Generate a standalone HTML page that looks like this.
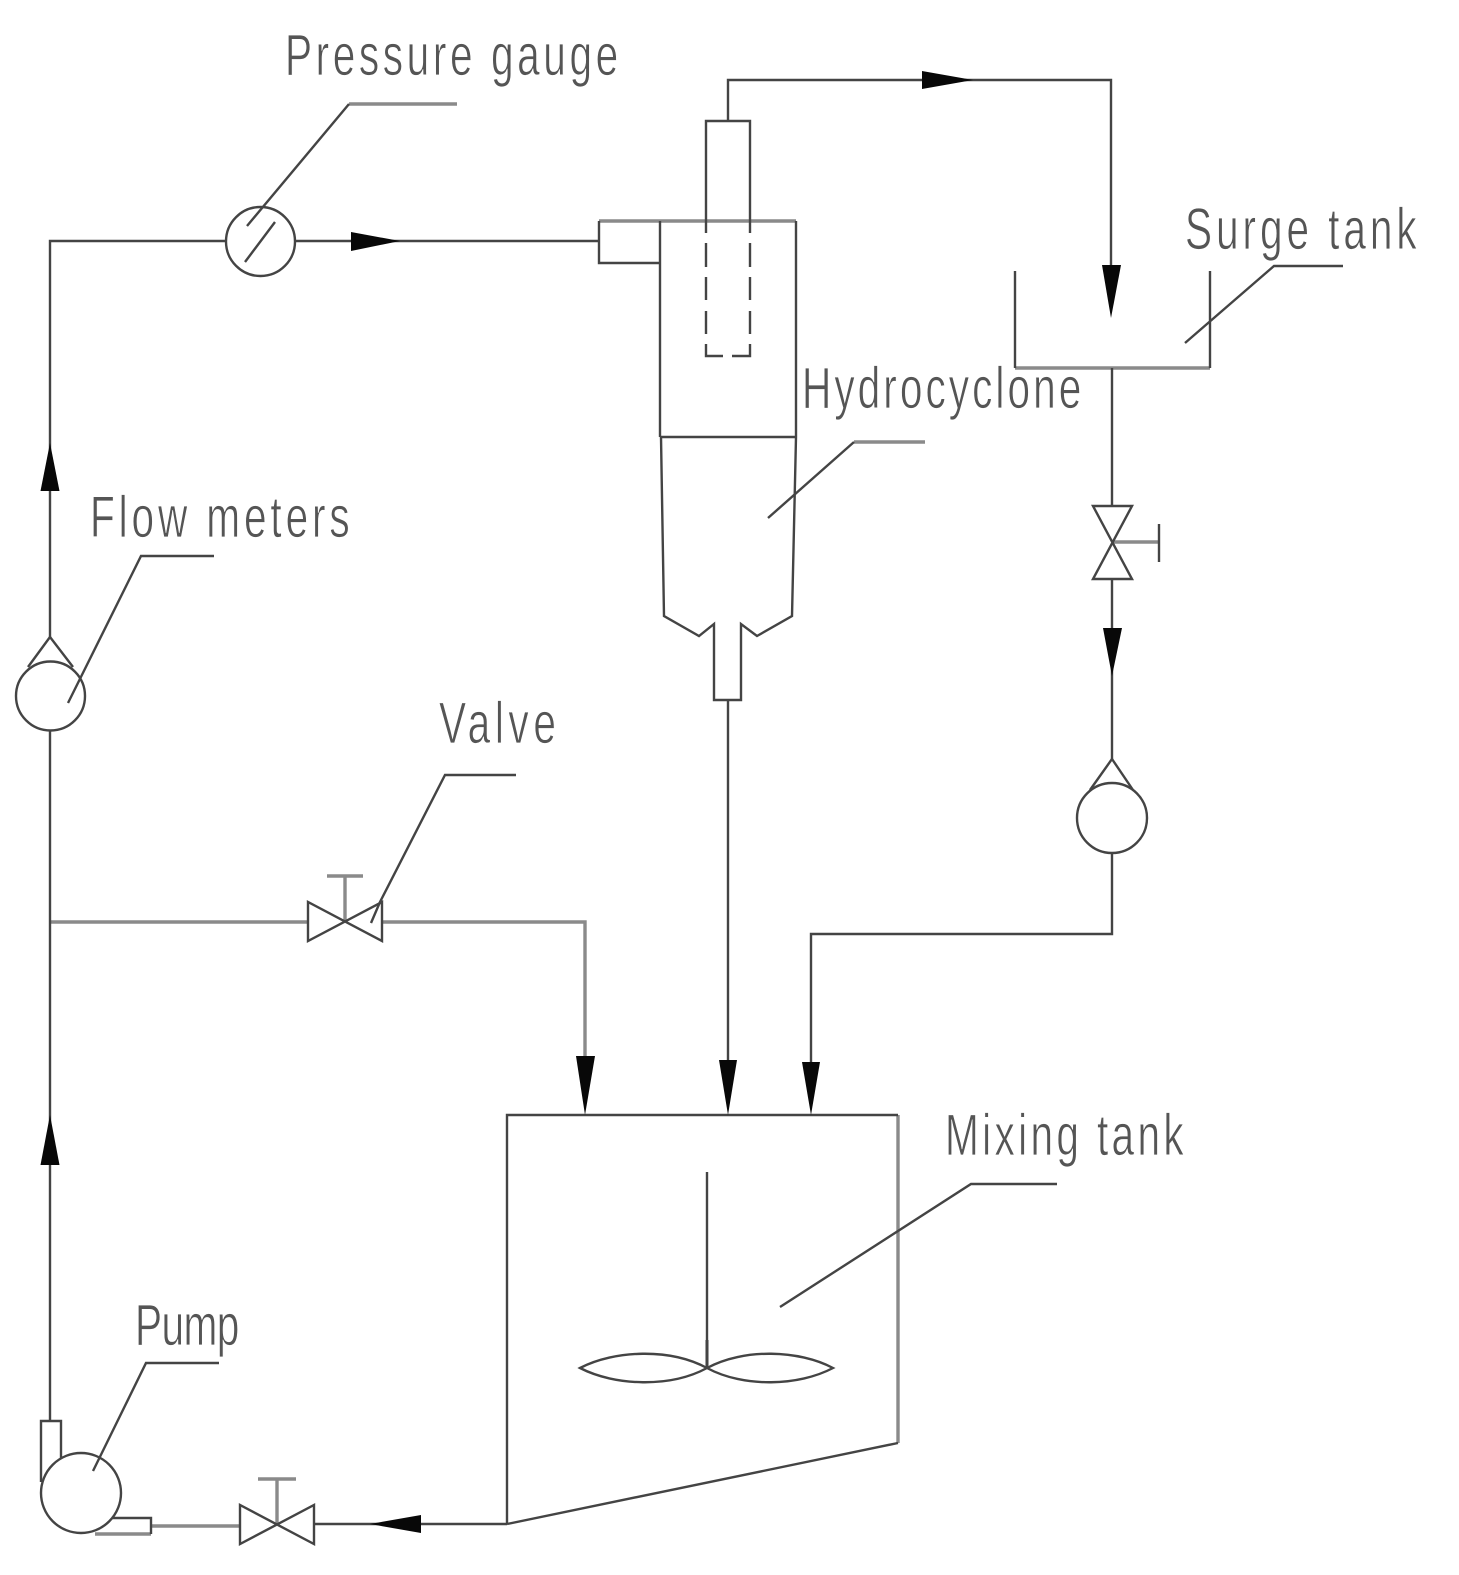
<!DOCTYPE html>
<html><head><meta charset="utf-8"><style>html,body{margin:0;padding:0;background:#fff}svg{display:block}</style></head>
<body>
<svg width="1459" height="1575" viewBox="0 0 1459 1575" xmlns="http://www.w3.org/2000/svg">
<rect width="1459" height="1575" fill="#fff"/>
<!-- lighter, thicker lines -->
<g fill="none" stroke="#8a8a8a" stroke-width="3.4">
<path d="M599 221H796"/>
<path d="M1015 368H1210"/>
<path d="M50 922H308M382 922H585V1056"/>
<path d="M898 1115V1443"/>
<path d="M151 1526H240M95 1534H151"/>
<path d="M345 922V876M327 876H363"/>
<path d="M277 1524V1479M258 1479H296"/>
<path d="M1112 542H1159"/>
<path d="M349 104H457M854 442H925"/>
<path d="M707 1368V1340"/>
</g>
<g fill="none" stroke="#444" stroke-width="2.4">
<!-- main left line -->
<path d="M50 1421V731M50 637V241H226M295 241H599"/>
<circle cx="260.500" cy="241.500" r="34.500"/>
<path d="M245 262L275 222M247 226L349 104"/>
<!-- hydrocyclone -->
<path d="M660 221V437M796 221V437M660 437H796M599 221V263H660"/>
<path d="M706 221V121H750V221"/>
<path d="M706 221V233M706 243V267M706 277V300M706 311V334M706 344V356H723M732 356H750V344M750 334V311M750 300V277M750 267V243M750 233V221"/>
<path d="M728 121V80H1111V265"/>
<path d="M661 437L664 616L699 636L714 624V700H741V624L757 636L792 616L796 437"/>
<path d="M728 700V1060"/>
<path d="M768 518L854 442"/>
<!-- surge tank -->
<path d="M1015 271V368M1210 271V368M1185 343L1274 266H1343"/>
<path d="M1112 368V506M1112 579V759"/>
<path d="M1093 506H1132L1093 579H1132Z"/>
<path d="M1159 524V562"/>
<path d="M1112 759L1090 790M1112 759L1133 790"/>
<circle cx="1112" cy="818" r="35"/>
<path d="M1112 853V934H811V1062"/>
<!-- flow meter -->
<circle cx="50.500" cy="696" r="34.500"/>
<path d="M50 637L28 667M50 637L73 667M68 703L141 556H214"/>
<!-- valve -->
<path d="M308 902V941L382 902V941Z"/>
<path d="M371 923L380 902L445 775H516"/>
<!-- mixing tank -->
<path d="M507 1524V1115H898M898 1443L507 1524"/>
<path d="M707 1172V1368"/>
<path d="M707 1368C670 1348 615 1350 580 1368C615 1386 670 1388 707 1368C744 1348 799 1350 833 1368C799 1386 744 1388 707 1368Z"/>
<path d="M780 1307L971 1184H1057"/>
<!-- pump -->
<circle cx="81" cy="1493" r="40"/>
<path d="M41 1482V1421H61V1458"/>
<path d="M112 1518H151V1534"/>
<path d="M93 1471L146 1363H219"/>
<path d="M314 1524H507"/>
<path d="M240 1505V1544L314 1505V1544Z"/>
</g>
<g fill="#080808" stroke="none">
<path d="M351 232L400 241L351 251Z"/>
<path d="M922 71L973 80L922 89Z"/>
<path d="M1102 265H1121L1111 318Z"/>
<path d="M1103 628H1122L1112 676Z"/>
<path d="M40.500 491L50 443L59.500 491Z"/>
<path d="M40.500 1165L50 1115L59.500 1165Z"/>
<path d="M576 1056H595L585 1115Z"/>
<path d="M719 1060H737L728 1115Z"/>
<path d="M802 1062H820L811 1115Z"/>
<path d="M421 1515V1533L370 1524Z"/>
</g>
<g font-family="'Liberation Sans',sans-serif" font-size="58" fill="#555" stroke="#fff" stroke-width="0.8">
<text transform="translate(285 75) scale(.7 1)" textLength="476" lengthAdjust="spacing">Pressure gauge</text>
<text transform="translate(1185 249) scale(.7 1)" textLength="331" lengthAdjust="spacing">Surge tank</text>
<text transform="translate(802 408) scale(.7 1)" textLength="399" lengthAdjust="spacing">Hydrocyclone</text>
<text transform="translate(90 537) scale(.7 1)" textLength="371" lengthAdjust="spacing">Flow meters</text>
<text transform="translate(439 743) scale(.7 1)" textLength="167" lengthAdjust="spacing">Valve</text>
<text transform="translate(945 1155) scale(.7 1)" textLength="341" lengthAdjust="spacing">Mixing tank</text>
<text transform="translate(135 1345) scale(.7 1)" textLength="149" lengthAdjust="spacing">Pump</text>
</g>
</svg>
</body></html>
